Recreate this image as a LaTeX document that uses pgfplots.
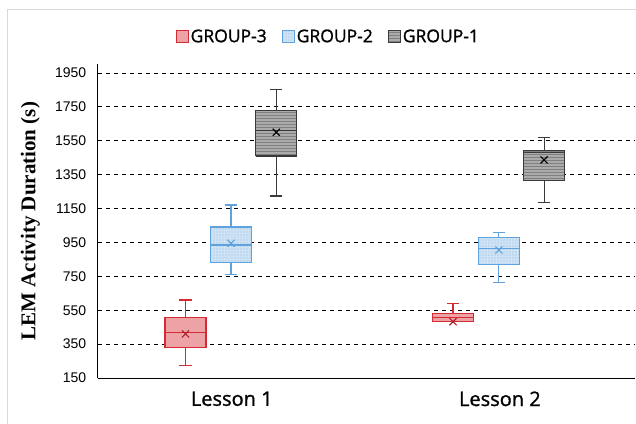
\documentclass[border=0pt]{standalone}
\usepackage{pgfplots}
\pgfplotsset{compat=1.18}
\usetikzlibrary{patterns}
\usepackage{fontspec}
\setmainfont{Liberation Sans}
\newfontfamily\osans[FakeBold=1.2]{Open Sans}
\newfontfamily\lserif{Liberation Serif}
\definecolor{redE}{HTML}{D42A33}
\definecolor{redF}{HTML}{EDA3A6}
\definecolor{bluE}{HTML}{5FA2DD}
\definecolor{bluF}{HTML}{BFD9F1}
\definecolor{grE}{HTML}{3A3A3A}
\definecolor{grF}{HTML}{ABABAB}
\pgfplotsset{
  g3/.style={draw=redE, line width=1.1bp, solid, mark=none, line join=miter},
  g2/.style={draw=bluE, line width=1.1bp, solid, mark=none, line join=miter},
  g1/.style={draw=grE, line width=1.1bp, solid, mark=none, line join=miter},
  g2f/.style={fill=bluF, postaction={pattern=grid, pattern color=bluE!30}},
  g1f/.style={fill=grF, postaction={pattern=horizontal lines, pattern color=grE!65}},
}
\begin{document}
\begin{tikzpicture}
\path[use as bounding box] (0,0) rectangle (636bp,424bp);
\draw[color=black!15, line width=0.8bp] (7.5bp,0) -- (7.5bp,415bp) -- (636bp,415bp);
\begin{axis}[
  at={(97.7bp,46bp)}, anchor=south west,
  scale only axis, width=536.3bp, height=313.5bp,
  xmin=-0.5, xmax=1.5, ymin=150, ymax=2000,
  axis lines=left,
  axis line style={-, line width=1bp, black},
  xtick={0,1}, xticklabels={Lesson 1, Lesson 2},
  ytick={150,350,...,1950},
  tick align=inside,
  tick style={draw=none},
  ymajorgrids,
  grid style={black, line width=0.9bp, dash pattern=on 4.5bp off 3.5bp},
  unbounded coords=jump,
  /pgf/number format/assume math mode=true,
  /pgf/number format/1000 sep={},
  yticklabel style={font=\fontsize{14bp}{16bp}\selectfont, anchor=east, xshift=-8bp},
  xticklabel style={font=\osans\fontsize{20bp}{22bp}\selectfont, anchor=north, yshift=-10bp},
  ylabel={LEM Activity Duration (s)},
  ylabel style={font=\lserif\bfseries\fontsize{21bp}{24bp}\selectfont,
    at={(axis description cs:-0.1255,0.5)}, anchor=center},
  legend style={draw=none, fill=none, legend columns=3,
    font=\osans\fontsize{17.5bp}{19bp}\selectfont,
    at={(axis description cs:0.430,1.089)}, anchor=center,
    /tikz/every even column/.append style={column sep=13bp}},
  legend cell align=left,
  legend image code/.code={\draw[#1] (0bp,-6bp) rectangle (12bp,6bp);},
]
\addlegendimage{draw=redE, fill=redF, line width=1bp}
\addlegendentry{GROUP-3}
\addlegendimage{draw=bluE, g2f, line width=1bp}
\addlegendentry{GROUP-2}
\addlegendimage{draw=grE, g1f, line width=1bp}
\addlegendentry{GROUP-1}

% ---------- Lesson 1 ----------
% GROUP-3: pos -0.1726, lw 223, q1 329, med 420, q3 508, uw 610
\addplot[g3, fill=redF] coordinates {(-0.2490,329) (-0.0963,329) (-0.0963,508) (-0.2490,508) (-0.2490,329)};
\addplot[g3] coordinates {(-0.2490,420) (-0.0963,420)};
\addplot[g3] coordinates {(-0.1726,508) (-0.1726,610) (-0.1726,nan) (-0.1951,610) (-0.1501,610) (-0.1501,nan) (-0.1726,329) (-0.1726,223) (-0.1726,nan) (-0.1951,223) (-0.1501,223)};
% GROUP-2: pos -0.0028, lw 760, q1 829, med 935, q3 1041, uw 1171
\addplot[g2, g2f] coordinates {(-0.0792,829) (0.0736,829) (0.0736,1041) (-0.0792,1041) (-0.0792,829)};
\addplot[g2] coordinates {(-0.0792,935) (0.0736,935)};
\addplot[g2] coordinates {(-0.0028,1041) (-0.0028,1171) (-0.0028,nan) (-0.0253,1171) (0.0197,1171) (0.0197,nan) (-0.0028,829) (-0.0028,760) (-0.0028,nan) (-0.0253,760) (0.0197,760)};
% GROUP-1: pos 0.1660, lw 1224, q1 1460, med 1608, q3 1726, uw 1850
\addplot[g1, g1f] coordinates {(0.0896,1460) (0.2424,1460) (0.2424,1726) (0.0896,1726) (0.0896,1460)};
\addplot[g1] coordinates {(0.0896,1608) (0.2424,1608)};
\addplot[g1] coordinates {(0.1660,1726) (0.1660,1850) (0.1660,nan) (0.1435,1850) (0.1885,1850) (0.1885,nan) (0.1660,1460) (0.1660,1224) (0.1660,nan) (0.1435,1224) (0.1885,1224)};

% ---------- Lesson 2 ----------
% GROUP-3: pos 0.8251, lw 478, q1 482, med 506, q3 532, uw 591
\addplot[g3, fill=redF] coordinates {(0.7487,482) (0.9015,482) (0.9015,532) (0.7487,532) (0.7487,482)};
\addplot[g3] coordinates {(0.7487,506) (0.9015,506)};
\addplot[g3] coordinates {(0.8251,532) (0.8251,591) (0.8251,nan) (0.8026,591) (0.8476,591)};
% GROUP-2: pos 0.9961, lw 715, q1 821, med 915, q3 980, uw 1010
\addplot[g2, g2f] coordinates {(0.9197,821) (1.0725,821) (1.0725,980) (0.9197,980) (0.9197,821)};
\addplot[g2] coordinates {(0.9197,915) (1.0725,915)};
\addplot[g2] coordinates {(0.9961,980) (0.9961,1010) (0.9961,nan) (0.9736,1010) (1.0186,1010) (1.0186,nan) (0.9961,821) (0.9961,715) (0.9961,nan) (0.9736,715) (1.0186,715)};
% GROUP-1: pos 1.1648, lw 1187, q1 1313, med 1482, q3 1490, uw 1570
\addplot[g1, g1f] coordinates {(1.0884,1313) (1.2412,1313) (1.2412,1490) (1.0884,1490) (1.0884,1313)};
\addplot[g1] coordinates {(1.0884,1482) (1.2412,1482)};
\addplot[g1] coordinates {(1.1648,1490) (1.1648,1570) (1.1648,nan) (1.1423,1570) (1.1873,1570) (1.1873,nan) (1.1648,1313) (1.1648,1187) (1.1648,nan) (1.1423,1187) (1.1873,1187)};

% ---------- means ----------
\addplot[only marks, mark=x, mark size=5bp, mark options={draw=redE!80!black, line width=1.1bp}] coordinates {(-0.1726,410) (0.8251,482)};
\addplot[only marks, mark=x, mark size=5bp, mark options={draw=bluE, line width=1.1bp}] coordinates {(-0.0028,945) (0.9961,905)};
\addplot[only marks, mark=x, mark size=5bp, mark options={draw=black, line width=1.1bp}] coordinates {(0.1660,1600) (1.1648,1437)};
\end{axis}
\end{tikzpicture}
\end{document}
